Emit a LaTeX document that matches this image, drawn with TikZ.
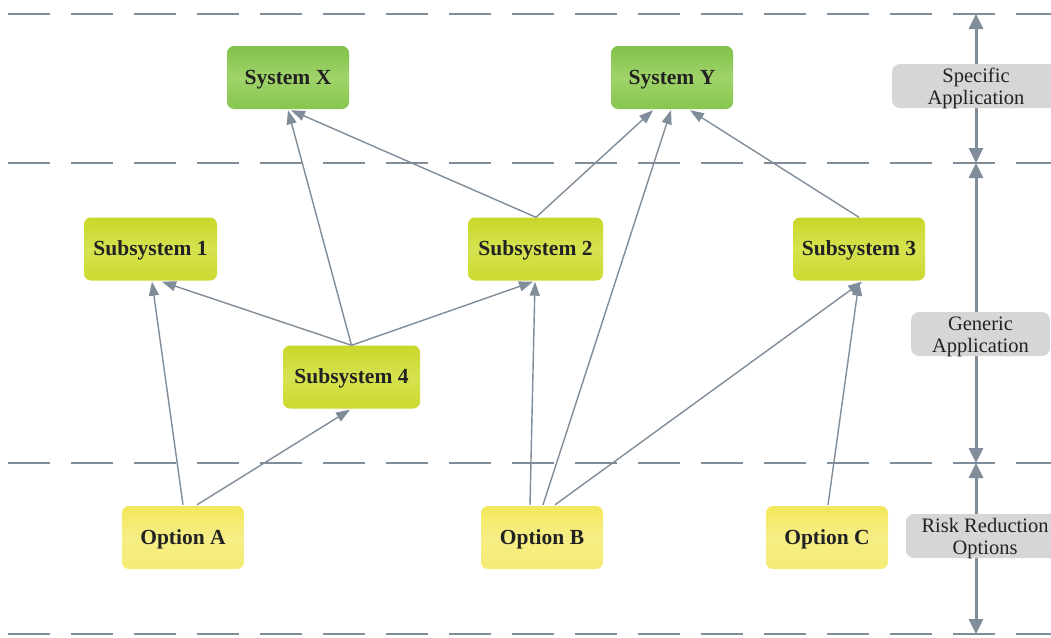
\documentclass[tikz,border=0pt]{standalone}
\usepackage{fontspec}
\setmainfont{Liberation Serif}
\usetikzlibrary{arrows.meta,calc,shadings}
\definecolor{linegray}{HTML}{7F8C99}
\definecolor{bandgray}{HTML}{D6D6D6}
\definecolor{txt}{HTML}{222222}
\newcommand{\bandtext}[2]{\raisebox{-3.5pt}[\height][\depth]{\begin{tabular}{@{}c@{}}#1\\#2\end{tabular}}}
\tikzset{
  box/.style={rounded corners=7pt, minimum height=63pt, inner sep=0pt,
    font=\fontsize{21.5}{24}\selectfont\bfseries, text=txt, text height=17pt, text depth=4pt},
  sysbox/.style={box, minimum width=122pt, top color=sysTop, bottom color=sysBot, middle color=sysMid},
  subbox/.style={box, minimum width=134pt, top color=subTop, bottom color=subBot, middle color=subMid},
  optbox/.style={box, minimum width=122pt, top color=optTop, bottom color=optBot, middle color=optMid},
  band/.style={fill=bandgray, rounded corners=8pt, inner sep=0pt,
    font=\fontsize{20.5}{22}\selectfont, text=txt},
  divider/.style={linegray, line width=2pt, dash pattern=on 42pt off 21pt},
  link/.style={linegray, line width=1.4pt, -{Triangle[length=14pt,width=10pt]}},
  span/.style={linegray, line width=3pt, {Triangle[length=15pt,width=14pt]}-{Triangle[length=15pt,width=14pt]}},
}
\definecolor{sysTop}{HTML}{80C24A}
\definecolor{sysMid}{HTML}{A0D36A}
\definecolor{sysBot}{HTML}{86C64E}
\definecolor{subTop}{HTML}{C9D72A}
\definecolor{subMid}{HTML}{D6E24F}
\definecolor{subBot}{HTML}{CCD92D}
\definecolor{optTop}{HTML}{F3E75A}
\definecolor{optMid}{HTML}{F6EE86}
\definecolor{optBot}{HTML}{F5EC74}
\begin{document}
\begin{tikzpicture}[x=1pt,y=-1pt]
\useasboundingbox (0,0) rectangle (1051,637);
\clip (0,0) rectangle (1051,637);

% layer dividers
\foreach \yy in {14,163,463,634}
  \draw[divider] (8,\yy) -- (1060,\yy);

% level spans on the right
\coordinate (s0) at (976,14);
\coordinate (s1) at (976,163);
\coordinate (s2) at (976,463);
\coordinate (s3) at (976,634);
\draw[span] (s0) -- (s1);
\draw[span] (s1) -- (s2);
\draw[span] (s2) -- (s3);

\node[band, minimum width=168pt, minimum height=42pt] (lab1) at (976,86) {\bandtext{Specific}{Application}};
\node[band, minimum width=139pt, minimum height=42pt] (lab2) at (980.5,334) {\bandtext{Generic}{Application}};
\node[band, minimum width=158pt, minimum height=38pt] (lab3) at (985,536) {\bandtext{Risk Reduction}{Options}};

% systems
\node[sysbox] (sx) at (288,77.5) {System X};
\node[sysbox] (sy) at (672,77.5) {System Y};
% subsystems
\node[subbox, minimum width=133pt] (s1b) at (150.5,249) {Subsystem 1};
\node[subbox, minimum width=135pt] (s2b) at (535.5,249) {Subsystem 2};
\node[subbox, minimum width=132pt] (s3b) at (859,249) {Subsystem 3};
\node[subbox, minimum width=137pt] (s4b) at (351.5,377) {Subsystem 4};
% options
\node[optbox] (oa) at (183,537.5) {Option A};
\node[optbox] (ob) at (542,537.5) {Option B};
\node[optbox] (oc) at (827,537.5) {Option C};

% dependencies
\draw[link] ($(oa.north)+(0,-1)$) -- ($(s1b.south)+(1.5,1)$);
\draw[link] ($(oa.north)+(14,-1)$) -- ($(s4b.south)+(-1.5,1)$);
\draw[link] (s4b.north) -- ($(s1b.south)+(11.5,1)$);
\draw[link] (s4b.north) -- ($(s2b.south)+(-2.5,1)$);
\draw[link] (s4b.north) -- ($(sx.south)+(0,1)$);
\draw[link] ($(ob.north)+(-12,-1)$) -- ($(s2b.south)+(-0.5,1)$);
\draw[link] ($(ob.north)+(1,-1)$) -- ($(sy.south)+(-1,1)$);
\draw[link] ($(ob.north)+(13,-1)$) -- ($(s3b.south)+(3,1)$);
\draw[link] ($(s2b.north)+(0.5,0)$) -- ($(sx.south)+(3,1)$);
\draw[link] ($(s2b.north)+(0.5,0)$) -- ($(sy.south)+(-19,1)$);
\draw[link] (s3b.north) -- ($(sy.south)+(18,1)$);
\draw[link] ($(oc.north)+(1,-1)$) -- ($(s3b.south)+(0,1)$);
\end{tikzpicture}
\end{document}
